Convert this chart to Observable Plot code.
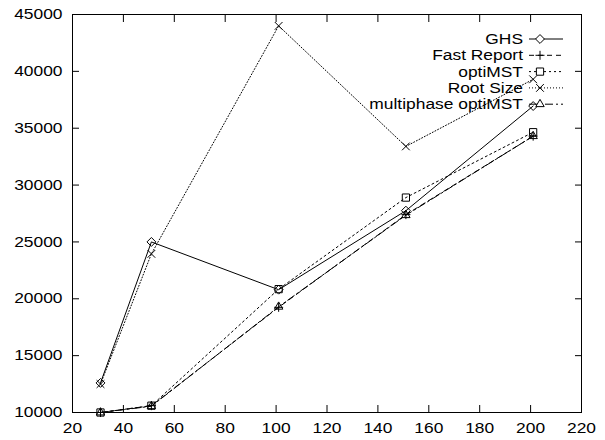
<!DOCTYPE html>
<html>
<head>
<meta charset="utf-8">
<script src="https://cdn.jsdelivr.net/npm/d3@7"></script>
<script src="https://cdn.jsdelivr.net/npm/@observablehq/plot@0.6"></script>
<style>
  html, body { margin: 0; padding: 0; background: #fff; }
  svg { font-family: "Liberation Sans", Arial, sans-serif; }
</style>
</head>
<body>
<div id="chart"></div>
<script>
const xValues = [31, 51, 101, 151, 201];
const seriesNames = ["GHS", "Fast Report", "optiMST", "Root Size", "multiphase optiMST"];
const ghs = [12600, 25000, 20800, 27750, 36950];
const fastReport = [10000, 10600, 19250, 27400, 34300];
const optiMST = [10000, 10600, 20850, 28900, 34650];
const rootSize = [12500, 23950, 44000, 33400, 39300];
const multiphase = [10000, 10550, 19300, 27350, 34300];
const xTicks = [20, 40, 60, 80, 100, 120, 140, 160, 180, 200, 220];
const yTicks = [10000, 15000, 20000, 25000, 30000, 35000, 40000, 45000];

const seriesValues = [ghs, fastReport, optiMST, rootSize, multiphase];
const styles = [
  {dash: null, symbol: "diamond2", r: 4},
  {dash: "5,4", symbol: "plus", r: 3},
  {dash: "2,3", symbol: "square2", r: 4.6},
  {dash: "1,2", symbol: "times", r: 3.6},
  {dash: "8,3,2,3", symbol: "triangle2", r: 4}
];
const FONT = 14.5, STRETCH = 1.2;

const marks = [];
seriesNames.forEach((name, i) => {
  const data = xValues.map((x, j) => ({x, y: seriesValues[i][j], series: name}));
  marks.push(Plot.line(data, {x: "x", y: "y", stroke: "black", strokeWidth: 1, strokeDasharray: styles[i].dash}));
  marks.push(Plot.dot(data, {x: "x", y: "y", symbol: () => styles[i].symbol, r: styles[i].r, fill: "none", stroke: "black", strokeWidth: 1}));
});

const chart = Plot.plot({
  width: 605,
  height: 440,
  marginLeft: 72,
  marginRight: 24,
  marginTop: 14,
  marginBottom: 28,
  style: {fontFamily: "Liberation Sans, Arial, sans-serif", fontSize: FONT + "px", color: "black", background: "white"},
  x: {domain: [20, 220]},
  y: {domain: [10000, 45000]},
  symbol: {domain: styles.map(s => s.symbol), range: styles.map(s => s.symbol)},
  marks: [
    Plot.frame({stroke: "black", strokeWidth: 1}),
    Plot.axisX(xTicks, {anchor: "bottom", label: null, tickSize: -7, tickPadding: 17, tickFormat: d => String(d), fontSize: FONT}),
    Plot.axisX(xTicks, {anchor: "top", label: null, tickSize: -7, tickFormat: () => ""}),
    Plot.axisY(yTicks, {anchor: "left", label: null, tickSize: -7, tickPadding: 17, tickFormat: d => String(d), fontSize: FONT}),
    Plot.axisY(yTicks, {anchor: "right", label: null, tickSize: -7, tickFormat: () => ""}),
    ...marks
  ]
});
document.getElementById("chart").appendChild(chart);

// legend (gnuplot-style key, top right inside the frame)
const svg = d3.select(chart);
const key = svg.append("g").attr("class", "key");
const keyTextX = 523, sampleX1 = 529, sampleX2 = 563, markerX = 540, rowY0 = 39, rowStep = 16.3;
const symbolMap = {diamond2: d3.symbolDiamond2, plus: d3.symbolPlus, square2: d3.symbolSquare2, times: d3.symbolTimes, triangle2: d3.symbolTriangle2};
seriesNames.forEach((name, i) => {
  const y = rowY0 + i * rowStep;
  key.append("text").attr("x", keyTextX).attr("y", y).attr("dy", "0.35em")
    .attr("text-anchor", "end").attr("font-size", FONT).attr("fill", "black").text(name);
  key.append("line").attr("x1", sampleX1).attr("x2", sampleX2).attr("y1", y).attr("y2", y)
    .attr("stroke", "black").attr("stroke-width", 1).attr("stroke-dasharray", styles[i].dash);
  key.append("path").attr("transform", `translate(${markerX},${y})`)
    .attr("d", d3.symbol(symbolMap[styles[i].symbol], Math.PI * styles[i].r * styles[i].r)())
    .attr("fill", "white").attr("stroke", "black").attr("stroke-width", 1);
});

// horizontally stretch text (the reference font is wide), keeping each text's anchor fixed
chart.querySelectorAll("text").forEach(t => {
  if (!t.textContent) return;
  const b = t.getBBox();
  const anchor = t.getAttribute("text-anchor") || getComputedStyle(t).textAnchor || "start";
  const ax = anchor === "end" ? b.x + b.width : anchor === "middle" ? b.x + b.width / 2 : b.x;
  const prev = t.getAttribute("transform") || "";
  t.setAttribute("transform", `${prev} translate(${ax},0) scale(${STRETCH},1) translate(${-ax},0)`.trim());
});
</script>
</body>
</html>
